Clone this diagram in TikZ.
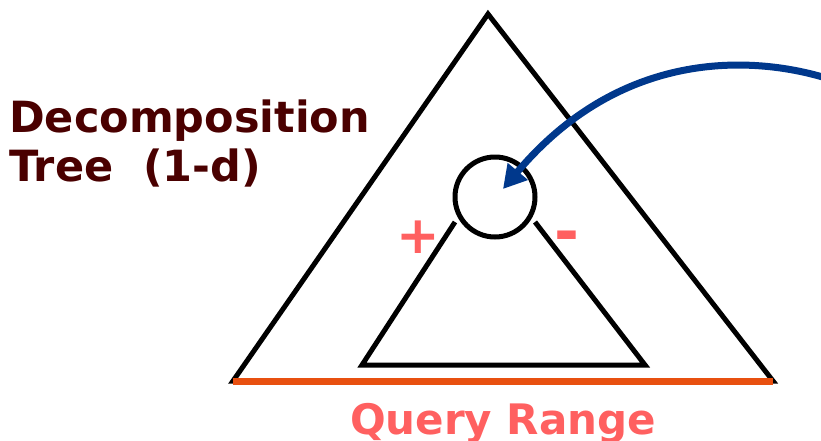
\documentclass[tikz,border=0pt]{standalone}
\usepackage{fontspec}
\setmainfont{DejaVu Sans}
\usetikzlibrary{arrows.meta}
\definecolor{labelbrown}{RGB}{74,0,0}
\definecolor{rangesalmon}{RGB}{255,96,96}
\definecolor{rangeorange}{RGB}{232,80,16}
\definecolor{pointerblue}{RGB}{0,56,140}

\begin{document}
\begin{tikzpicture}[
    x=1pt, y=-1pt,
    treeline/.style={
        draw=black,
        line width=5pt
    },
    rootnode/.style={
        circle,
        draw=black,
        line width=5pt,
        minimum size=80pt,
        inner sep=0pt
    },
    rangeline/.style={
        draw=rangeorange,
        line width=7pt
    },
    pointer/.style={
        draw=pointerblue,
        line width=7pt,
        -{Triangle[length=23pt,width=25pt]}
    },
    title/.style={
        inner sep=0pt,
        align=left,
        text=labelbrown,
        font=\fontsize{43}{49}\selectfont\bfseries
    },
    sign/.style={
        inner sep=0pt,
        anchor=base,
        text=rangesalmon,
        font=\fontsize{52}{52}\selectfont\bfseries
    }
]
\useasboundingbox (0,0) rectangle (821,440);

% Outer tree
\coordinate (apex) at (488,14);
\coordinate (left) at (233,381);
\coordinate (right) at (773,381);
\path [treeline] (apex) -- (left) -- (right) -- cycle;

% Subtree under the node
\node [rootnode] (root) at (495,197) {};
\coordinate (subl) at (455,222);
\coordinate (subr) at (535,222);
\coordinate (subbl) at (362,365);
\coordinate (subbr) at (645,365);
\path [treeline] (subl) -- (subbl) -- (subbr) -- (subr);

% Range along the base
\path [rangeline] (left) -- (right);

% Labels
\node [title, anchor=north west] (name) at (9,100) {Decomposition\\Tree\ \ (1-d)};
\node [sign] (plus) at (418,253) {+};
\node [sign, font=\fontsize{60}{60}\selectfont\bfseries] (minus) at (567,252) {-};
\node [inner sep=0pt, anchor=base, text=rangesalmon, font=\fontsize{42}{42}\selectfont\bfseries] (range) at (503,434) {Query Range};

% Pointer
\coordinate (from) at (826,78);
\coordinate (tip) at (503,189);
\path [pointer] (from) .. controls (750,55) and (620,50) .. (tip);

\end{tikzpicture}
\end{document}
